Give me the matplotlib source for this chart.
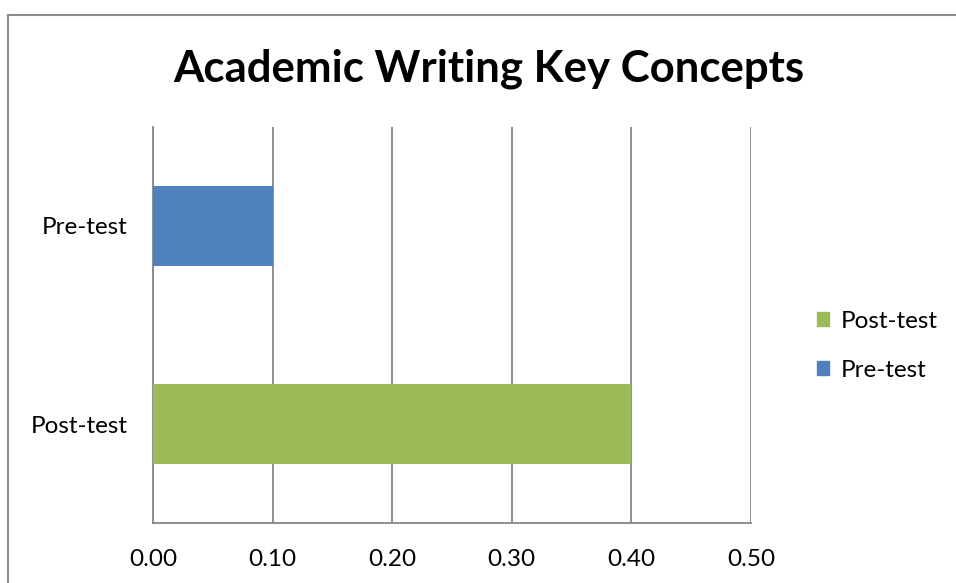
import matplotlib
matplotlib.use("Agg")
import matplotlib.pyplot as plt
from matplotlib.lines import Line2D
from matplotlib.patches import Patch

plt.rcParams['font.family'] = ['Lato', 'DejaVu Sans']

groups = ['Post-test', 'Pre-test']
scores = [0.40, 0.10]
bar_colors = ['#9BBB59', '#4F81BD']
xticks = [0.0, 0.1, 0.2, 0.3, 0.4, 0.5]

fig = plt.figure(figsize=(9.56, 5.83), dpi=100)
ax = fig.add_axes([0.1600, 0.1029, 0.6256, 0.6793])

ax.barh(groups, scores, height=0.40, color=bar_colors, zorder=3)

ax.set_xlim(0, 0.5)
ax.set_ylim(-0.5, 1.5)
ax.set_xticks(xticks)
ax.set_xticklabels([f"{v:.2f}" for v in xticks])
ax.grid(axis='x', color='#868686', linewidth=1.3, zorder=0)
ax.tick_params(axis='both', length=0, labelsize=17.5, colors='black')
ax.tick_params(axis='x', pad=19)
ax.tick_params(axis='y', pad=18)
for side in ['top', 'right']:
    ax.spines[side].set_visible(False)
for side in ['left', 'bottom']:
    ax.spines[side].set_color('#868686')
    ax.spines[side].set_linewidth(1.3)

fig.text(0.511, 0.882, 'Academic Writing Key Concepts', ha='center', va='center',
         fontsize=31.5, fontweight='bold')

handles = [Patch(color=bar_colors[0]), Patch(color=bar_colors[1])]
fig.legend(handles, groups, loc='center left', bbox_to_anchor=(0.832, 0.407),
           frameon=False, fontsize=17.5, handlelength=0.5, handleheight=0.5,
           handletextpad=0.45, labelspacing=1.15)

# outer chart border (top and left edges)
fig.add_artist(Line2D([8 / 956, 1.0], [1 - 15 / 583, 1 - 15 / 583],
                      transform=fig.transFigure, color='#8c8c8c', linewidth=1.5))
fig.add_artist(Line2D([8 / 956, 8 / 956], [0.0, 1 - 15 / 583],
                      transform=fig.transFigure, color='#8c8c8c', linewidth=1.5))

fig.savefig('out.png', dpi=100)
